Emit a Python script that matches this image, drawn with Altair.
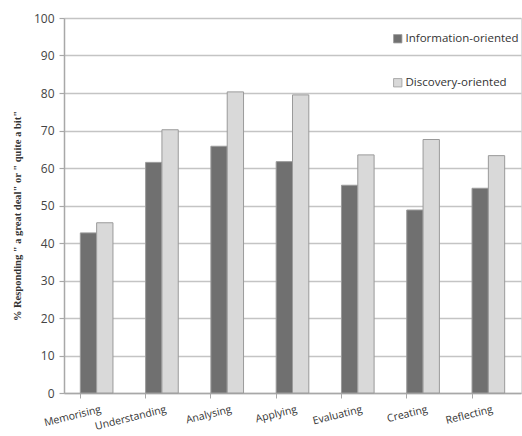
import altair as alt
import pandas as pd

categories = ["Memorising", "Understanding", "Analysing", "Applying", "Evaluating", "Creating", "Reflecting"]
info_oriented = [42.7, 61.5, 65.8, 61.7, 55.4, 48.8, 54.6]
discovery_oriented = [45.4, 70.2, 80.3, 79.5, 63.5, 67.6, 63.3]
series = ["Information-oriented", "Discovery-oriented"]
colors = ["#707070", "#d9d9d9"]

rows = []
for c, a, b in zip(categories, info_oriented, discovery_oriented):
    rows.append({"category": c, "series": series[0], "value": a})
    rows.append({"category": c, "series": series[1], "value": b})
df = pd.DataFrame(rows)

W, H = 457, 375

chart = alt.Chart(df).mark_bar(stroke="#9a9a9a", strokeWidth=1).encode(
    x=alt.X("category:N", sort=categories,
            scale=alt.Scale(paddingInner=0.5, paddingOuter=0.25),
            axis=alt.Axis(title=None, labelAngle=346, labelAlign="right", labelBaseline="top",
                          bandPosition=0, labelOffset=3, labelPadding=6,
                          labelFont="Open Sans", labelFontSize=10.5, labelColor="#333333",
                          domainColor="#a8a8a8", domainWidth=1.5, tickColor="#a8a8a8",
                          tickSize=5, tickWidth=1, grid=False)),
    xOffset=alt.XOffset("series:N", sort=series),
    y=alt.Y("value:Q", scale=alt.Scale(domain=[0, 100], nice=False),
            axis=alt.Axis(title='% Responding " a great deal" or " quite a bit"',
                          titleFont="Liberation Serif", titleFontWeight="bold", titleFontSize=10.5,
                          titleColor="#333333", titleX=-42, titleY=H / 2 + 10,
                          values=list(range(0, 101, 10)), labelFont="Open Sans", labelFontSize=12,
                          labelColor="#444444", labelPadding=5,
                          gridColor="#c4c4c4", gridWidth=1.5, domainColor="#a8a8a8", domainWidth=1.5,
                          tickColor="#a8a8a8", tickSize=5, tickWidth=1.2)),
    color=alt.Color("series:N", sort=series,
                    scale=alt.Scale(domain=series, range=colors),
                    legend=alt.Legend(title=None, orient="none", legendX=328, legendY=15,
                                      symbolType="square", symbolSize=70, symbolStrokeColor="#9a9a9a",
                                      symbolStrokeWidth=0.8,
                                      labelFont="Open Sans", labelFontSize=11.5, labelColor="#333333",
                                      rowPadding=31, labelOffset=2)),
).properties(
    width=W, height=H,
    autosize=alt.AutoSizeParams(type="none"),
    padding={"left": 64, "top": 18, "right": 1, "bottom": 43},
).configure_view(stroke=None).configure(background="white")

chart.save("out.html", embed_options={"renderer": "svg", "actions": False})
